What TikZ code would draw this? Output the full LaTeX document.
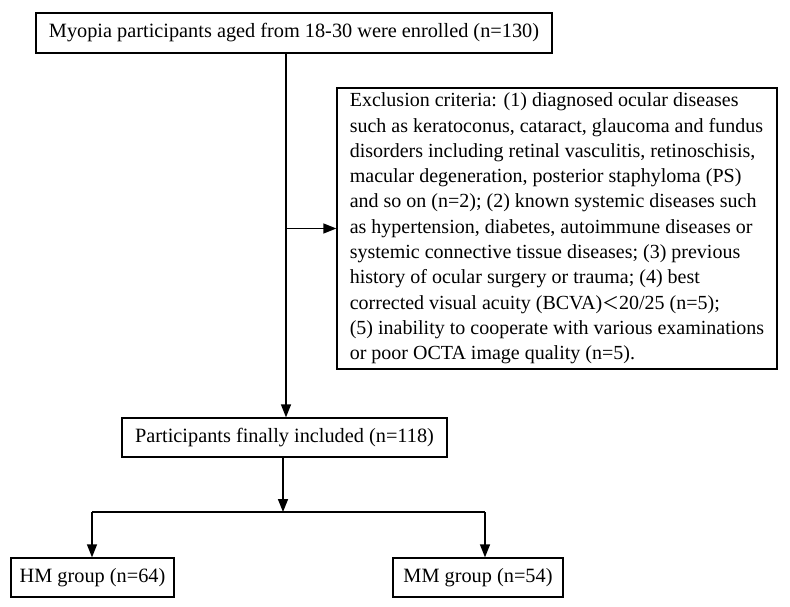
\documentclass[tikz,border=0pt]{standalone}
\usepackage{fontspec}
\setmainfont{Liberation Serif}
\newfontfamily\cjk{Noto Sans CJK SC}
\usetikzlibrary{arrows.meta}
\begin{document}
\begin{tikzpicture}[x=1pt,y=-1pt,
  box/.style={draw,line width=1.3pt,inner sep=0pt,font=\fontsize{20.3}{25.3}\selectfont,minimum height=39pt},
  conn/.style={line width=1.5pt,-{Triangle[length=13pt,width=10pt]}},
  plain/.style={line width=1.5pt}]
\useasboundingbox (0,0) rectangle (790,607);
\node[box,minimum width=516pt,minimum height=40pt] (top) at (294,33) {Myopia participants aged from 18-30 were enrolled (n=130)};
\node[box,minimum width=440pt,minimum height=281pt,inner xsep=5pt,align=left,font=\fontsize{20}{25.3}\selectfont] (excl) at (557,228.5) {Exclusion criteria: (1) diagnosed ocular diseases\\
such as keratoconus, cataract, glaucoma and fundus\\
disorders including retinal vasculitis, retinoschisis,\\
macular degeneration, posterior staphyloma (PS)\\
and so on (n=2); (2) known systemic diseases such\\
as hypertension, diabetes, autoimmune diseases or\\
systemic connective tissue diseases; (3) previous\\
history of ocular surgery or trauma; (4) best\\
corrected visual acuity (BCVA){\cjk\fontsize{17}{25.3}\selectfont ＜}20/25 (n=5);\\
(5) inability to cooperate with various examinations\\
or poor OCTA image quality (n=5).};
\node[box,minimum width=325pt] (part) at (284.5,437.5) {Participants finally included (n=118)};
\node[box,minimum width=163pt] (hm) at (92.5,577.5) {HM group (n=64)};
\node[box,minimum width=170pt] (mm) at (478,577.5) {MM group (n=54)};
\coordinate (sp) at (286,0);
\coordinate (br) at (283,0);
\coordinate (jn) at (283,512);
\coordinate (hl) at (92,512);
\coordinate (hr) at (485,512);
\draw[conn] (sp |- top.south) -- (sp |- part.north);
\draw[conn] (sp |- excl.west) -- (excl.west);
\draw[conn] (br |- part.south) -- (jn);
\draw[plain] (hl) -- (hr);
\draw[conn] (hl) -- (hl |- hm.north);
\draw[conn] (hr) -- (hr |- mm.north);
\end{tikzpicture}
\end{document}
